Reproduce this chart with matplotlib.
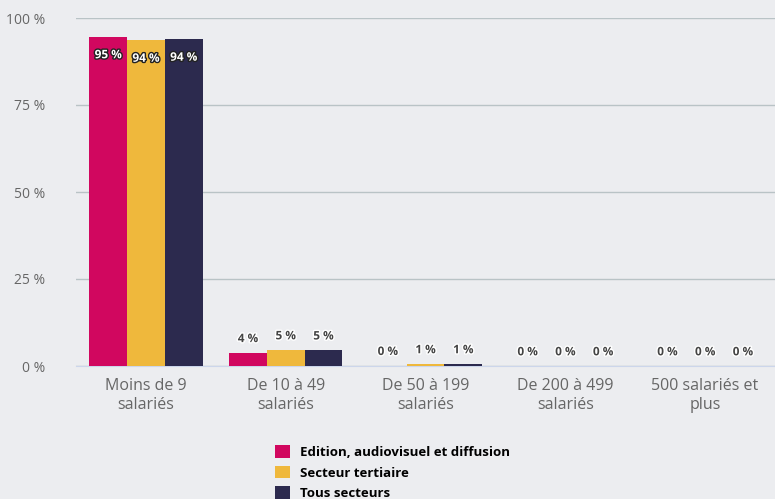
import matplotlib
matplotlib.use("Agg")
import matplotlib.pyplot as plt
import matplotlib.patheffects as pe
from matplotlib.patches import Patch
import numpy as np

plt.rcParams['font.family'] = ['Open Sans', 'DejaVu Sans']

categories = ["Moins de 9\nsalariés", "De 10 à 49\nsalariés", "De 50 à 199\nsalariés",
              "De 200 à 499\nsalariés", "500 salariés et\nplus"]
series_names = ["Edition, audiovisuel et diffusion", "Secteur tertiaire", "Tous secteurs"]
edition = [94.6, 3.8, 0.1, 0.0, 0.0]
tertiaire = [93.6, 4.6, 0.6, 0.0, 0.0]
tous = [93.9, 4.55, 0.6, 0.0, 0.0]
y_ticks = [0, 25, 50, 75, 100]

colors = ['#D1075F', '#EFB83C', '#2C2A4E']
bg = '#ECEDF0'

fig = plt.figure(figsize=(7.75, 4.99), dpi=100)
fig.patch.set_facecolor(bg)
ax = fig.add_axes([76 / 775, 1 - 366 / 499, 1 - 76 / 775, 348 / 499])
ax.set_facecolor(bg)

x = np.arange(len(categories))
width = 0.27
for i, (vals, name) in enumerate(zip([edition, tertiaire, tous], series_names)):
    pos = x + (i - 1) * width
    ax.bar(pos, vals, width=width, color=colors[i], label=name, zorder=3)
    for xp, v in zip(pos, vals):
        label = f"{v:.0f} %"
        if v > 50:
            ax.text(xp, v - 3.3, label, ha='center', va='top', fontsize=8.5,
                    fontweight='bold', color='white', zorder=4,
                    path_effects=[pe.withStroke(linewidth=2, foreground='#222222')])
        else:
            ax.text(xp, v + 2.2, label, ha='center', va='bottom', fontsize=8.5,
                    fontweight='bold', color='#444444', zorder=4,
                    path_effects=[pe.withStroke(linewidth=2, foreground='white')])

ax.set_xlim(-0.5, len(categories) - 0.5)
ax.set_ylim(0, 100)
ax.set_yticks(y_ticks)
ax.set_yticklabels([f"{t} %" for t in y_ticks])
ax.set_xticks(x)
ax.set_xticklabels(categories)
ax.tick_params(axis='y', length=0, pad=22, labelsize=10, labelcolor='#666666')
ax.tick_params(axis='x', length=0, pad=9, labelsize=11.5, labelcolor='#666666')
for t in ax.get_xticklabels():
    t.set_linespacing(1.2)

ax.grid(axis='y', color='#B9C3C6', linewidth=1, zorder=0)
ax.grid(axis='x', visible=False)
for s in ['top', 'right', 'left']:
    ax.spines[s].set_visible(False)
ax.spines['bottom'].set_color('#CCD6EB')
ax.spines['bottom'].set_zorder(2)

handles = [Patch(facecolor=c, label=n) for c, n in zip(colors, series_names)]
fig.legend(handles=handles, loc='upper left', bbox_to_anchor=(270 / 775, 1 - 440 / 499),
           frameon=False, prop={'weight': 'bold', 'size': 9.5}, handlelength=1.1,
           handleheight=1.1, handletextpad=0.8, labelspacing=0.5, borderaxespad=0)

fig.savefig("out.png", dpi=100, facecolor=bg)
